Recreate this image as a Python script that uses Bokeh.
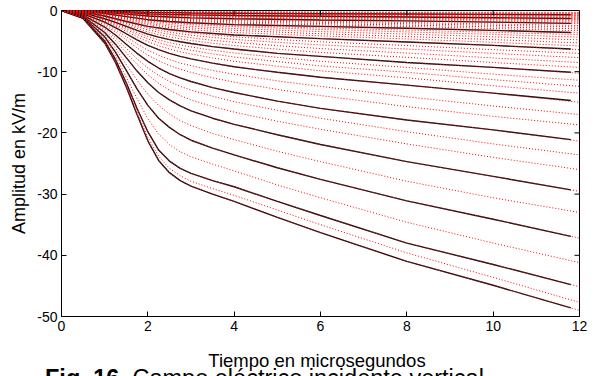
from bokeh.plotting import figure
from bokeh.models import Range1d, FixedTicker, Div
from bokeh.layouts import column
from bokeh.embed import file_html
from bokeh.resources import INLINE

# ---- data ----
x_ticks = [0, 2, 4, 6, 8, 10, 12]
y_ticks = [-50, -40, -30, -20, -10, 0]

# fine time grid for the large curves, coarse grid for the small ones
t_black_fine = [0, 0.5, 1, 1.25, 1.5, 1.75, 2, 2.25, 2.5, 2.75, 3, 3.5, 4, 5, 6, 8, 10, 11.8]
t_red_fine = [0, 0.5, 1, 1.25, 1.5, 1.75, 2, 2.25, 2.5, 2.75, 3, 3.5, 4, 5, 6, 8, 10, 12]
t_black_coarse = [0, 0.5, 1, 1.5, 2, 2.5, 3, 4, 6, 8, 10, 11.8]
t_red_coarse = [0, 0.5, 1, 1.5, 2, 2.5, 3, 4, 6, 8, 10, 12]

black_large = [
    [0, -1.3, -5.3, -8.5, -12.5, -17.0, -21.3, -24.5, -26.5, -27.8, -28.7, -30.0, -31.2, -33.8, -36.3, -41.0, -44.9, -48.6],
    [0, -1.25, -5.0, -8.0, -11.8, -16.0, -19.8, -22.8, -24.6, -25.8, -26.6, -27.8, -28.8, -31.2, -33.5, -38.0, -41.5, -44.8],
    [0, -1.1, -4.3, -6.8, -9.8, -12.8, -15.5, -17.6, -19.1, -20.3, -21.2, -22.5, -23.6, -25.7, -27.6, -31.1, -34.1, -36.9],
    [0, -0.95, -3.6, -5.5, -7.7, -9.9, -11.8, -13.4, -14.6, -15.6, -16.4, -17.6, -18.6, -20.3, -21.9, -24.7, -27.1, -29.3],
    [0, -0.75, -2.7, -4.0, -5.5, -7.0, -8.3, -9.4, -10.3, -11.0, -11.6, -12.6, -13.4, -14.8, -16.0, -17.9, -19.5, -21.1],
    [0, -0.55, -1.9, -2.8, -3.8, -4.8, -5.7, -6.4, -7.0, -7.5, -7.9, -8.6, -9.2, -10.1, -10.9, -12.2, -13.5, -14.7],
    [0, -0.4, -1.35, -1.95, -2.6, -3.25, -3.85, -4.35, -4.75, -5.1, -5.4, -5.9, -6.3, -7.0, -7.5, -8.5, -9.3, -10.1],
]

black_small = [
    [0, -0.25, -0.9, -1.8, -2.6, -3.1, -3.5, -4.0, -4.6, -5.15, -5.7, -6.3],
    [0, -0.15, -0.5, -1.0, -1.5, -1.8, -2.0, -2.3, -2.6, -2.9, -3.25, -3.6],
    [0, -0.1, -0.3, -0.6, -0.9, -1.05, -1.2, -1.35, -1.55, -1.7, -1.9, -2.1],
    [0, -0.05, -0.2, -0.35, -0.55, -0.65, -0.72, -0.82, -0.95, -1.05, -1.18, -1.3],
    [0, -0.03, -0.1, -0.2, -0.3, -0.35, -0.4, -0.45, -0.52, -0.58, -0.64, -0.7],
]

red_large = [
    [0, -1.3, -5.3, -8.5, -12.5, -17.0, -21.3, -24.5, -26.5, -27.8, -28.7, -30.0, -31.2, -33.8, -36.3, -41.0, -44.9, -49.0],
    [0, -1.28, -5.2, -8.3, -12.2, -16.6, -20.7, -23.8, -25.8, -27.0, -27.9, -29.1, -30.2, -32.6, -35.0, -39.6, -43.6, -47.7],
    [0, -1.25, -5.0, -8.0, -11.8, -16.0, -19.8, -22.8, -24.6, -25.8, -26.6, -27.8, -28.8, -31.2, -33.5, -38.0, -41.5, -45.15],
    [0, -1.18, -4.65, -7.4, -10.9, -14.4, -17.7, -20.2, -21.9, -23.1, -23.9, -25.1, -26.2, -28.5, -30.6, -34.6, -38.0, -41.2],
    [0, -1.1, -4.3, -6.8, -9.8, -12.8, -15.5, -17.6, -19.1, -20.3, -21.2, -22.5, -23.6, -25.7, -27.6, -31.1, -34.1, -37.2],
    [0, -1.02, -3.95, -6.15, -8.8, -11.4, -13.7, -15.5, -16.9, -18.0, -18.8, -20.1, -21.1, -23.0, -24.7, -27.9, -30.6, -33.0],
    [0, -0.95, -3.6, -5.5, -7.7, -9.9, -11.8, -13.4, -14.6, -15.6, -16.4, -17.6, -18.6, -20.3, -21.9, -24.7, -27.1, -29.55],
    [0, -0.88, -3.25, -4.9, -6.9, -8.8, -10.5, -11.9, -13.0, -13.9, -14.6, -15.7, -16.6, -18.1, -19.4, -21.8, -24.0, -26.0],
    [0, -0.8, -2.95, -4.45, -6.2, -7.9, -9.4, -10.6, -11.6, -12.4, -13.0, -14.0, -14.9, -16.3, -17.6, -19.8, -21.8, -23.6],
    [0, -0.75, -2.7, -4.0, -5.5, -7.0, -8.3, -9.4, -10.3, -11.0, -11.6, -12.6, -13.4, -14.8, -16.0, -17.9, -19.5, -21.35],
    [0, -0.68, -2.4, -3.5, -4.8, -6.1, -7.3, -8.2, -9.0, -9.6, -10.1, -11.0, -11.7, -12.9, -13.9, -15.7, -17.3, -18.7],
    [0, -0.62, -2.15, -3.15, -4.3, -5.45, -6.5, -7.3, -8.0, -8.6, -9.0, -9.8, -10.4, -11.5, -12.4, -14.1, -15.6, -17.0],
    [0, -0.55, -1.9, -2.8, -3.8, -4.8, -5.7, -6.4, -7.0, -7.5, -7.9, -8.6, -9.2, -10.1, -10.9, -12.2, -13.5, -15.0],
    [0, -0.5, -1.72, -2.5, -3.4, -4.3, -5.1, -5.75, -6.3, -6.75, -7.1, -7.75, -8.3, -9.1, -9.85, -11.0, -12.3, -13.5],
    [0, -0.47, -1.6, -2.3, -3.1, -3.9, -4.65, -5.25, -5.75, -6.15, -6.5, -7.1, -7.6, -8.35, -9.05, -10.1, -11.3, -12.4],
    [0, -0.44, -1.48, -2.12, -2.85, -3.58, -4.25, -4.8, -5.25, -5.62, -5.95, -6.5, -6.95, -7.65, -8.3, -9.3, -10.4, -11.4],
    [0, -0.4, -1.35, -1.95, -2.6, -3.25, -3.85, -4.35, -4.75, -5.1, -5.4, -5.9, -6.3, -7.0, -7.5, -8.5, -9.3, -10.25],
    [0, -0.37, -1.22, -1.75, -2.35, -2.95, -3.5, -3.95, -4.3, -4.62, -4.9, -5.35, -5.72, -6.32, -6.85, -7.65, -8.5, -9.3],
    [0, -0.33, -1.1, -1.58, -2.12, -2.66, -3.15, -3.56, -3.9, -4.2, -4.45, -4.87, -5.2, -5.75, -6.22, -6.95, -7.75, -8.5],
    [0, -0.3, -1.0, -1.44, -1.92, -2.4, -2.85, -3.22, -3.53, -3.8, -4.03, -4.4, -4.72, -5.2, -5.63, -6.3, -7.0, -7.7],
    [0, -0.27, -0.92, -1.32, -1.75, -2.19, -2.6, -2.93, -3.22, -3.46, -3.66, -4.0, -4.3, -4.73, -5.12, -5.72, -6.4, -7.0],
]

red_small = [
    [0, -0.25, -0.9, -1.8, -2.6, -3.1, -3.5, -4.0, -4.6, -5.15, -5.7, -6.4],
    [0, -0.22, -0.8, -1.6, -2.3, -2.8, -3.15, -3.6, -4.15, -4.65, -5.2, -5.8],
    [0, -0.2, -0.72, -1.45, -2.1, -2.55, -2.85, -3.25, -3.8, -4.25, -4.75, -5.3],
    [0, -0.18, -0.65, -1.3, -1.9, -2.3, -2.6, -2.95, -3.45, -3.85, -4.3, -4.8],
    [0, -0.17, -0.58, -1.18, -1.7, -2.05, -2.32, -2.65, -3.1, -3.5, -3.9, -4.35],
    [0, -0.16, -0.54, -1.08, -1.6, -1.92, -2.15, -2.47, -2.85, -3.2, -3.57, -3.95],
    [0, -0.15, -0.5, -1.0, -1.5, -1.8, -2.0, -2.3, -2.6, -2.9, -3.25, -3.65],
    [0, -0.13, -0.45, -0.9, -1.35, -1.62, -1.8, -2.07, -2.35, -2.62, -2.95, -3.3],
    [0, -0.12, -0.4, -0.82, -1.22, -1.46, -1.63, -1.87, -2.13, -2.38, -2.68, -3.0],
    [0, -0.11, -0.36, -0.74, -1.1, -1.32, -1.47, -1.69, -1.92, -2.15, -2.42, -2.7],
    [0, -0.1, -0.33, -0.67, -1.0, -1.2, -1.34, -1.53, -1.74, -1.95, -2.2, -2.45],
    [0, -0.1, -0.3, -0.6, -0.9, -1.05, -1.2, -1.35, -1.55, -1.7, -1.9, -2.12],
    [0, -0.09, -0.27, -0.54, -0.81, -0.95, -1.08, -1.22, -1.4, -1.54, -1.72, -1.93],
    [0, -0.08, -0.24, -0.48, -0.72, -0.85, -0.96, -1.09, -1.25, -1.38, -1.54, -1.74],
    [0, -0.07, -0.22, -0.43, -0.65, -0.77, -0.87, -0.98, -1.13, -1.25, -1.4, -1.57],
    [0, -0.06, -0.2, -0.39, -0.6, -0.71, -0.79, -0.9, -1.04, -1.15, -1.29, -1.44],
    [0, -0.05, -0.2, -0.35, -0.55, -0.65, -0.72, -0.82, -0.95, -1.05, -1.18, -1.32],
    [0, -0.05, -0.17, -0.31, -0.49, -0.58, -0.64, -0.73, -0.85, -0.94, -1.05, -1.18],
    [0, -0.04, -0.15, -0.28, -0.44, -0.52, -0.57, -0.65, -0.76, -0.84, -0.94, -1.05],
    [0, -0.04, -0.13, -0.25, -0.39, -0.46, -0.51, -0.58, -0.67, -0.75, -0.83, -0.93],
    [0, -0.03, -0.12, -0.22, -0.35, -0.41, -0.45, -0.51, -0.59, -0.66, -0.73, -0.82],
    [0, -0.03, -0.1, -0.2, -0.3, -0.35, -0.4, -0.45, -0.52, -0.58, -0.64, -0.71],
    [0, -0.025, -0.085, -0.17, -0.25, -0.3, -0.34, -0.38, -0.44, -0.49, -0.54, -0.6],
    [0, -0.02, -0.07, -0.14, -0.21, -0.25, -0.28, -0.32, -0.37, -0.41, -0.45, -0.5],
    [0, -0.015, -0.055, -0.11, -0.17, -0.2, -0.22, -0.25, -0.29, -0.33, -0.36, -0.4],
    [0, -0.01, -0.04, -0.08, -0.12, -0.15, -0.17, -0.19, -0.22, -0.25, -0.27, -0.3],
]

x_title = "Tiempo en microsegundos"
y_title = "Amplitud en kV/m"
caption_bold = "Fig. 16."
caption_text = "Campo eléctrico incidente vertical"

FONT = "Liberation Sans"
X0, X1 = 0, 12
Y0, Y1 = -50, 0
LEFT, RIGHT, TOP, BOTTOM = 61, 17, 10, 29
MAIN_H, CAP_H, W = 345, 31, 596
FRAME_W = W - LEFT - RIGHT
FRAME_H = MAIN_H - TOP - BOTTOM
TICK_PX = 5

p = figure(width=W, height=MAIN_H, output_backend="svg", toolbar_location=None,
           x_range=Range1d(X0, X1), y_range=Range1d(Y0, Y1),
           min_border_left=LEFT, min_border_right=RIGHT, min_border_top=TOP,
           min_border_bottom=BOTTOM)
p.background_fill_color = "white"
p.border_fill_color = "white"
p.outline_line_color = "black"
p.outline_line_width = 1
p.grid.visible = False

p.multi_line(xs=[t_black_fine] * len(black_large), ys=black_large,
             line_color="#151515", line_width=1.4)
p.multi_line(xs=[t_black_coarse] * len(black_small), ys=black_small,
             line_color="#151515", line_width=1.4)
p.multi_line(xs=[t_red_fine] * len(red_large), ys=red_large,
             line_color="#ff0000", line_width=1, line_dash="1 2")
p.multi_line(xs=[t_red_coarse] * len(red_small), ys=red_small,
             line_color="#ff0000", line_width=1, line_dash="1 2")

for ax, ticks in ((p.xaxis[0], x_ticks), (p.yaxis[0], y_ticks)):
    ax.ticker = FixedTicker(ticks=ticks)
    ax.major_tick_in = TICK_PX
    ax.major_tick_out = 0
    ax.minor_tick_line_color = None
    ax.axis_line_color = "black"
    ax.major_tick_line_color = "black"
    ax.major_label_text_font = FONT
    ax.major_label_text_color = "black"
    ax.major_label_text_font_size = "14px"
    ax.major_label_overrides = {t: str(t) for t in ticks}
    ax.major_label_standoff = 4

ya = p.yaxis[0]
ya.axis_label = y_title
ya.axis_label_text_font = FONT
ya.axis_label_text_font_size = "18px"
ya.axis_label_text_font_style = "normal"
ya.axis_label_text_color = "black"
ya.axis_label_standoff = 5

# mirrored inward ticks on the top and right edges of the box
dy = (Y1 - Y0) * TICK_PX / FRAME_H
dx = (X1 - X0) * TICK_PX / FRAME_W
inner_x = x_ticks[1:-1]
inner_y = y_ticks[1:-1]
p.segment(x0=inner_x, y0=[Y1] * len(inner_x), x1=inner_x, y1=[Y1 - dy] * len(inner_x),
          line_color="black", line_width=1)
p.segment(x0=[X1] * len(inner_y), y0=inner_y, x1=[X1 - dx] * len(inner_y), y1=inner_y,
          line_color="black", line_width=1)

# strip below the axes: x title and the (cut-off) figure caption
cap_html = (
    f'<div style="position:relative;width:{W}px;height:{CAP_H}px;overflow:hidden;'
    f'font-family:\'{FONT}\';color:#000;">'
    f'<div style="position:absolute;left:0;top:7px;width:634px;text-align:center;'
    f'font-size:18.5px;line-height:1;white-space:nowrap;">{x_title}</div>'
    f'<div style="position:absolute;left:45px;top:21.5px;font-size:23.5px;'
    f'line-height:1;white-space:nowrap;"><b>{caption_bold}</b> {caption_text}</div>'
    f'</div>'
)
cap = Div(text=cap_html, width=W, height=CAP_H, margin=0,
          styles={"overflow": "hidden"})

layout = column(p, cap, spacing=0)
open("out.html", "w").write(file_html(layout, INLINE))
